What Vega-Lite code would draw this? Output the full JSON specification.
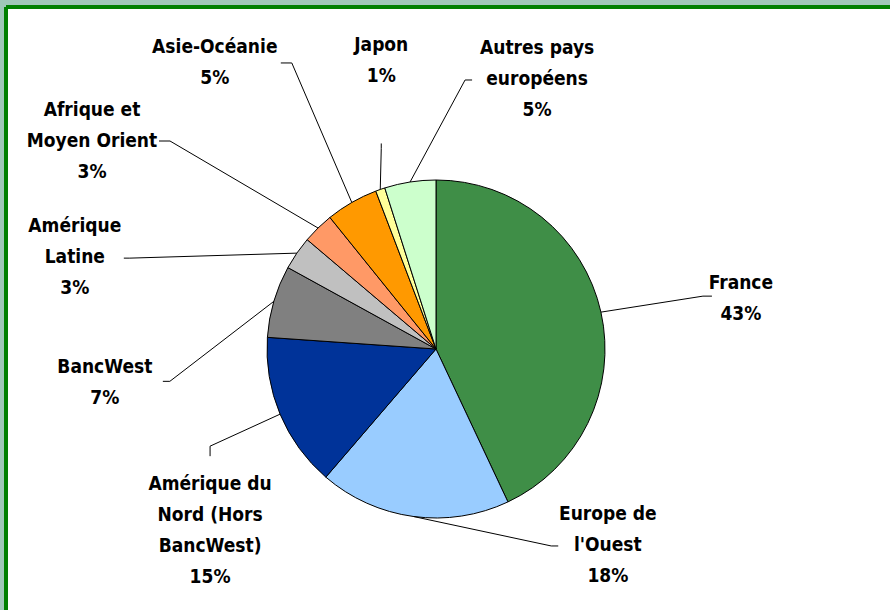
{
  "$schema": "https://vega.github.io/schema/vega-lite/v6.json",
  "width": 886,
  "height": 684,
  "autosize": "none",
  "padding": {"left": 6, "top": 7, "right": -2, "bottom": -81},
  "background": "#A0C8B8",
  "config": {
    "view": {"stroke": "#008000", "strokeWidth": 4, "strokeDash": [886, 1570, 684, 0], "fill": "white"}
  },
  "data": {
    "values": [
      {"region": "France", "value": 43.0},
      {"region": "Europe de\nl'Ouest", "value": 18.3},
      {"region": "Amérique du\nNord (Hors\nBancWest)", "value": 14.8},
      {"region": "BancWest", "value": 6.9},
      {"region": "Amérique\nLatine", "value": 3.2},
      {"region": "Afrique et\nMoyen Orient", "value": 3.0},
      {"region": "Asie-Océanie", "value": 5.0},
      {"region": "Japon", "value": 0.9},
      {"region": "Autres pays\neuropéens", "value": 4.9}
    ]
  },
  "transform": [
    {"window": [{"op": "row_number", "as": "idx"}, {"op": "sum", "field": "value", "as": "cum"}], "frame": [null, 0]},
    {"joinaggregate": [{"op": "sum", "field": "value", "as": "total"}]},
    {"calculate": "datum.region + '\\n' + format(datum.value, '.0f') + '%'", "as": "lbl"},
    {"calculate": "length(split(datum.lbl, '\\n'))", "as": "nlines"},
    {"calculate": "2 * PI * (datum.cum - datum.value / 2) / datum.total", "as": "mid"},
    {"calculate": "169 * sin(datum.mid)", "as": "sx"},
    {"calculate": "-169 * cos(datum.mid)", "as": "sy"},
    {"calculate": "datum.sx + [102, 138, -70, -104, -167, -148, -60, 1, 55][datum.idx - 1]", "as": "bx"},
    {"calculate": "datum.sy + [-16, 29.5, 32, 80, 5, -87, -139.5, -41, -102][datum.idx - 1]", "as": "by"},
    {"calculate": "datum.sx + [111, 145, -70, -111, -173, -159, -71, 1, 62][datum.idx - 1]", "as": "ex"},
    {"calculate": "datum.sy + [-16, 29.5, 42, 80, 5, -87, -139.5, -46, -102][datum.idx - 1]", "as": "ey"},
    {"calculate": "datum.sx + [140, 194.6, -70, -169, -222, -226, -137, 1, 127][datum.idx - 1]", "as": "lx"},
    {"calculate": "datum.sy + [-13.6, 28.5, 116.8, 80.7, 3.7, -87.5, -140, -129, -103][datum.idx - 1] - (datum.nlines - 1) * 15.5", "as": "ly"}
  ],
  "layer": [
    {
      "mark": {"type": "arc", "radius": 169, "stroke": "black", "strokeWidth": 1, "xOffset": -13},
      "encoding": {
        "theta": {"field": "value", "type": "quantitative", "stack": true},
        "order": {"field": "idx", "type": "quantitative"},
        "color": {
          "field": "region",
          "type": "nominal",
          "legend": null,
          "scale": {
            "domain": ["France", "Europe de\nl'Ouest", "Amérique du\nNord (Hors\nBancWest)", "BancWest", "Amérique\nLatine", "Afrique et\nMoyen Orient", "Asie-Océanie", "Japon", "Autres pays\neuropéens"],
            "range": ["#3F8E47", "#99CCFF", "#003399", "#808080", "#C0C0C0", "#FF9966", "#FF9900", "#FFFF99", "#CCFFCC"]
          }
        }
      }
    },
    {
      "mark": {"type": "rule", "color": "black", "strokeWidth": 1},
      "encoding": {
        "x": {"field": "sx", "type": "quantitative", "axis": null, "scale": {"domain": [-430, 456], "nice": false, "zero": false}},
        "y": {"field": "sy", "type": "quantitative", "axis": null, "scale": {"domain": [-342, 342], "nice": false, "zero": false, "reverse": true}},
        "x2": {"field": "bx"},
        "y2": {"field": "by"}
      }
    },
    {
      "mark": {"type": "rule", "color": "black", "strokeWidth": 1},
      "encoding": {
        "x": {"field": "bx", "type": "quantitative", "axis": null, "scale": {"domain": [-430, 456], "nice": false, "zero": false}},
        "y": {"field": "by", "type": "quantitative", "axis": null, "scale": {"domain": [-342, 342], "nice": false, "zero": false, "reverse": true}},
        "x2": {"field": "ex"},
        "y2": {"field": "ey"}
      }
    },
    {
      "mark": {"type": "text", "font": "DejaVu Sans Condensed, DejaVu Sans", "fontWeight": "bold", "fontSize": 19, "lineHeight": 31, "lineBreak": "\n", "align": "center", "baseline": "middle", "color": "black"},
      "encoding": {
        "x": {"field": "lx", "type": "quantitative", "axis": null, "scale": {"domain": [-430, 456], "nice": false, "zero": false}},
        "y": {"field": "ly", "type": "quantitative", "axis": null, "scale": {"domain": [-342, 342], "nice": false, "zero": false, "reverse": true}},
        "text": {"field": "lbl"}
      }
    }
  ]
}
